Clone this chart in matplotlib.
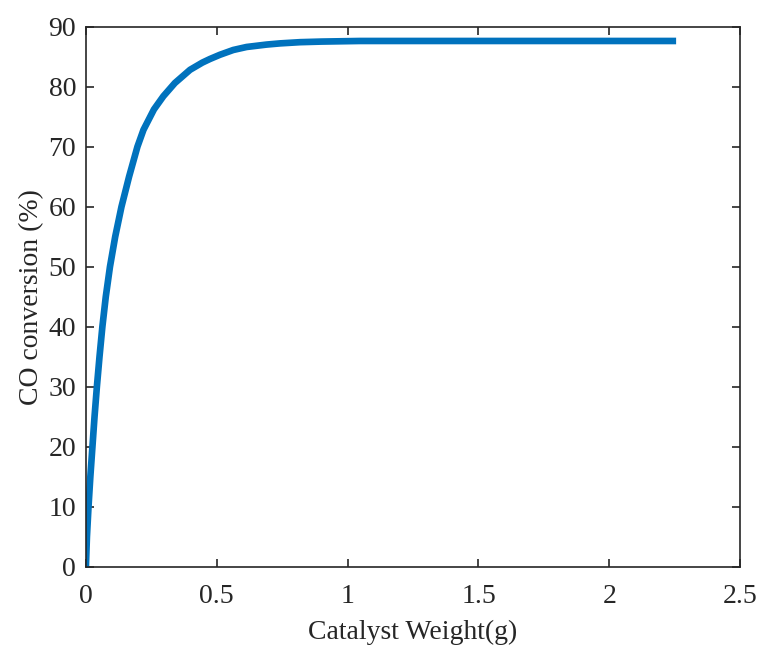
import numpy as np
import matplotlib.pyplot as plt

# values
weight = [0.0, 0.004, 0.010, 0.017, 0.025, 0.033, 0.042, 0.052, 0.063, 0.076,
          0.092, 0.112, 0.136, 0.165, 0.197, 0.220, 0.260, 0.296, 0.340, 0.398,
          0.445, 0.474, 0.512, 0.563, 0.614, 0.69, 0.742, 0.818, 0.9, 1.047,
          1.3, 1.6, 2.0, 2.255]
conversion = [0.0, 5.0, 10.0, 15.0, 20.0, 25.0, 30.0, 35.0, 40.0, 45.0,
              50.0, 55.0, 60.0, 65.0, 70.0, 72.8, 76.2, 78.4, 80.6, 82.8,
              84.0, 84.6, 85.3, 86.1, 86.6, 87.0, 87.2, 87.4, 87.5, 87.6,
              87.6, 87.6, 87.6, 87.6]

plt.rcParams['font.family'] = ['Liberation Serif', 'DejaVu Serif']

fig = plt.figure(figsize=(7.6, 6.48), dpi=100)
ax = fig.add_axes([0.113, 0.125, 0.861, 0.834])

ax.plot(weight, conversion, color='#0072BD', linewidth=4.8,
        solid_capstyle='butt', solid_joinstyle='round')

ax.set_xlim(0, 2.5)
ax.set_ylim(0, 90)
ax.set_xticks([0, 0.5, 1, 1.5, 2, 2.5])
ax.set_xticklabels(['0', '0.5', '1', '1.5', '2', '2.5'])
ax.set_yticks(np.arange(0, 91, 10))

ax.tick_params(direction='in', top=True, right=True, length=6, width=1.2,
               color='#262626', labelsize=20, labelcolor='#262626')
ax.tick_params(axis='x', pad=12)
ax.tick_params(axis='y', pad=7)
for s in ax.spines.values():
    s.set_color('#262626')
    s.set_linewidth(1.2)

ax.set_xlabel('Catalyst Weight(g)', fontsize=20, color='#262626', labelpad=8)
ax.set_ylabel('CO conversion (%)', fontsize=20, color='#262626', labelpad=3)

fig.savefig('out.png', dpi=100)
